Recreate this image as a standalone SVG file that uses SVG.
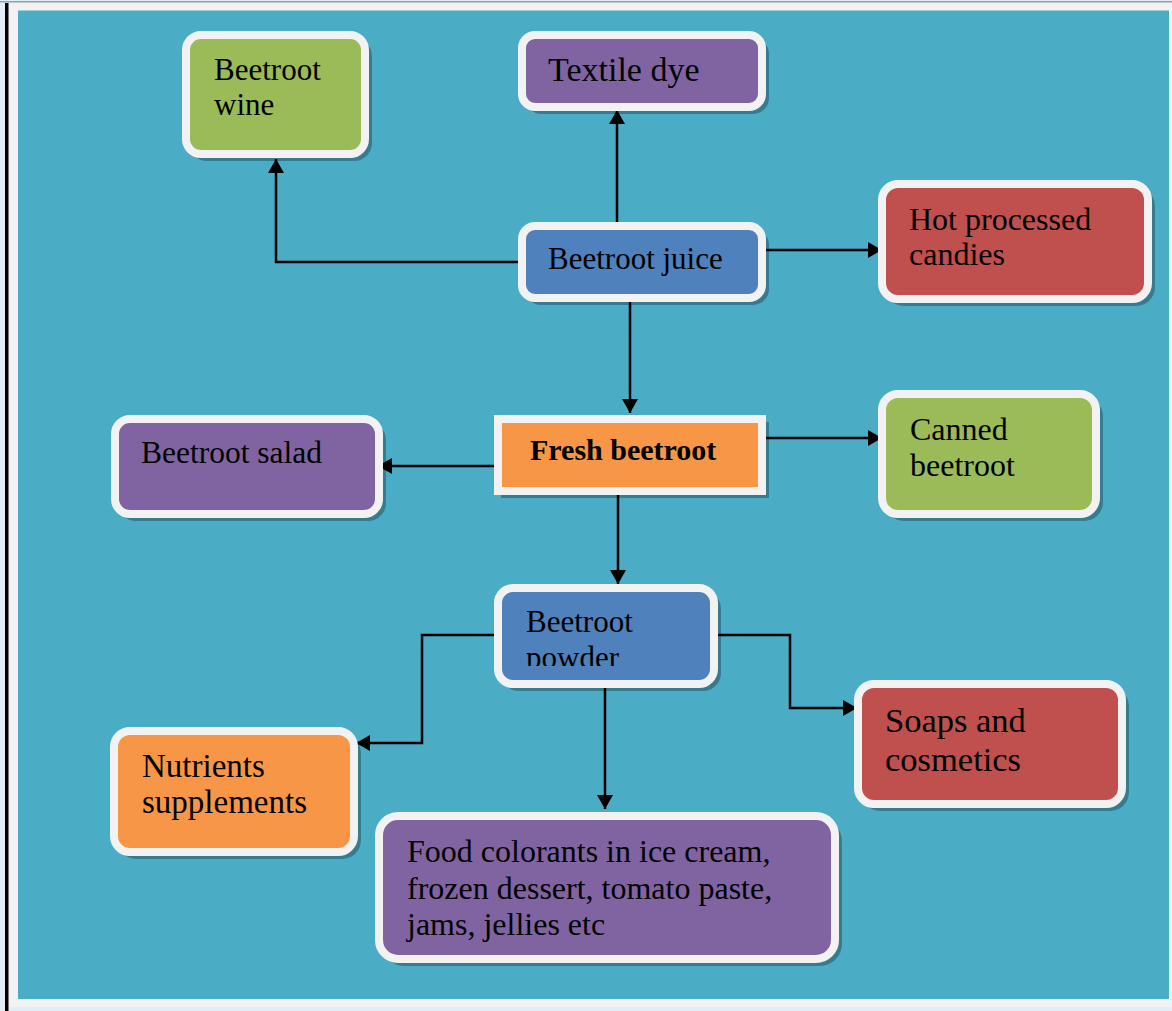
<svg xmlns="http://www.w3.org/2000/svg" width="1172" height="1011" viewBox="0 0 1172 1011">
<style>
.sh{fill:#000;opacity:0.28}
.box{stroke:#f2f2f2;stroke-width:8}
.t{font-family:"Liberation Serif","Times New Roman",serif;fill:#000}
.c{stroke:#000;stroke-width:2.5;fill:none}
.green{fill:#9bbb59}.purple{fill:#8064a2}.blue{fill:#4f81bd}.red{fill:#c0504d}.orange{fill:#f79646}
</style>
<defs>
<marker id="ah" markerUnits="userSpaceOnUse" markerWidth="16" markerHeight="16" refX="14" refY="8" orient="auto">
<path d="M0,0 L14,8 L0,16 Z" fill="#000"/>
</marker>
<clipPath id="pclip"><rect x="502" y="591" width="209" height="75"/></clipPath>
</defs>
<rect x="0" y="0" width="1172" height="1011" fill="#e3edf6"/>
<rect x="0" y="1" width="1172" height="1.5" fill="#9aa0a6"/>
<rect x="8" y="3" width="1164" height="1004" fill="#f2f2f2"/>
<rect x="5" y="3" width="3.5" height="1008" fill="#000"/>
<rect x="18" y="10.5" width="1151" height="988.5" fill="#4bacc6"/>

<g id="connectors">
<polyline class="c" points="518,262 276,262 276,159" marker-end="url(#ah)"/>
<line class="c" x1="617" y1="227" x2="617" y2="110" marker-end="url(#ah)"/>
<line class="c" x1="766" y1="250" x2="882" y2="250" marker-end="url(#ah)"/>
<line class="c" x1="630" y1="294" x2="630" y2="413" marker-end="url(#ah)"/>
<line class="c" x1="494" y1="466" x2="378" y2="466" marker-end="url(#ah)"/>
<line class="c" x1="766" y1="438" x2="882" y2="438" marker-end="url(#ah)"/>
<line class="c" x1="618" y1="495" x2="618" y2="584" marker-end="url(#ah)"/>
<polyline class="c" points="494,635 422,635 422,743 356,743" marker-end="url(#ah)"/>
<polyline class="c" points="717,635 790,635 790,708 857,708" marker-end="url(#ah)"/>
<line class="c" x1="605" y1="688" x2="605" y2="809" marker-end="url(#ah)"/>
</g>

<g id="node-wine">
<rect class="sh" x="189" y="38" width="183" height="123" rx="18"/>
<rect class="box green" x="186" y="35" width="179" height="119" rx="15"/>
<text class="t" x="214" y="80" font-size="31">Beetroot</text>
<text class="t" x="214" y="115" font-size="31">wine</text>
</g>

<g id="node-textile">
<rect class="sh" x="525" y="38" width="244" height="76" rx="16"/>
<rect class="box purple" x="522" y="35" width="240" height="72" rx="13"/>
<text class="t" x="548" y="81" font-size="34">Textile dye</text>
</g>

<g id="node-juice">
<rect class="sh" x="525" y="229" width="244" height="76" rx="16"/>
<rect class="box blue" x="522" y="226" width="240" height="72" rx="13"/>
<text class="t" x="548" y="269" font-size="31">Beetroot juice</text>
</g>

<g id="node-candies">
<rect class="sh" x="885" y="187" width="270" height="119" rx="19"/>
<rect class="box red" x="882" y="184" width="266" height="115" rx="16"/>
<text class="t" x="909" y="230" font-size="32">Hot processed</text>
<text class="t" x="909" y="265" font-size="32">candies</text>
</g>

<g id="node-fresh">
<rect class="sh" x="501" y="422" width="268" height="76"/>
<rect class="box orange" x="498" y="419" width="264" height="72"/>
<text class="t" x="530" y="460" font-size="30" font-weight="bold">Fresh beetroot</text>
</g>

<g id="node-salad">
<rect class="sh" x="118" y="422" width="268" height="99" rx="18"/>
<rect class="box purple" x="115" y="419" width="264" height="95" rx="15"/>
<text class="t" x="141" y="463" font-size="31.5">Beetroot salad</text>
</g>

<g id="node-canned">
<rect class="sh" x="885" y="397" width="218" height="124" rx="19"/>
<rect class="box green" x="882" y="394" width="214" height="120" rx="16"/>
<text class="t" x="910" y="440" font-size="32">Canned</text>
<text class="t" x="910" y="476" font-size="32">beetroot</text>
</g>

<g id="node-powder">
<rect class="sh" x="501" y="591" width="220" height="100" rx="18"/>
<rect class="box blue" x="498" y="588" width="216" height="96" rx="15"/>
<g clip-path="url(#pclip)">
<text class="t" x="526" y="632" font-size="31">Beetroot</text>
<text class="t" x="526" y="668" font-size="31">powder</text>
</g>
</g>

<g id="node-soaps">
<rect class="sh" x="861" y="687" width="268" height="124" rx="19"/>
<rect class="box red" x="858" y="684" width="264" height="120" rx="16"/>
<text class="t" x="885" y="732" font-size="34.5">Soaps and</text>
<text class="t" x="885" y="771" font-size="34.5">cosmetics</text>
</g>

<g id="node-nutrients">
<rect class="sh" x="117" y="734" width="244" height="125" rx="19"/>
<rect class="box orange" x="114" y="731" width="240" height="121" rx="16"/>
<text class="t" x="142" y="777" font-size="33">Nutrients</text>
<text class="t" x="142" y="813" font-size="33">supplements</text>
</g>

<g id="node-food">
<rect class="sh" x="382" y="819" width="460" height="147" rx="22"/>
<rect class="box purple" x="379" y="816" width="456" height="143" rx="19"/>
<text class="t" x="407" y="862" font-size="32">Food colorants in ice cream,</text>
<text class="t" x="407" y="899" font-size="32">frozen dessert, tomato paste,</text>
<text class="t" x="407" y="935" font-size="32">jams, jellies etc</text>
</g>
</svg>
